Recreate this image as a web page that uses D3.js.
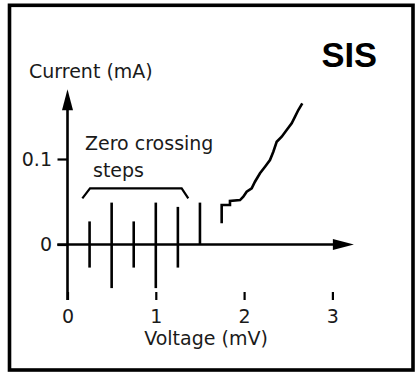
<!DOCTYPE html>
<html>
<head>
<meta charset="utf-8">
<script src="https://cdn.jsdelivr.net/npm/d3@7"></script>
<style>
  html, body { margin: 0; padding: 0; background: #fff; }
  svg { display: block; }
  text { font-family: "DejaVu Sans", sans-serif; font-size: 19px; fill: #1a1a1a; }
</style>
</head>
<body>
<svg id="chart" width="419" height="372"></svg>
<script>
// ---- data ----
const xTickValues = [0, 1, 2, 3];
const xTickLabels = ["0", "1", "2", "3"];
const yTickValues = [0, 0.1];
const yTickLabels = ["0", "0.1"];

// zero-crossing (Shapiro) steps: voltage (mV), lower / upper current (mA)
const stepVoltages = [0.25, 0.5, 0.75, 1.0, 1.25, 1.5];
const stepLow  = [-0.027, -0.051, -0.027, -0.051, -0.027, 0];
const stepHigh = [0.027, 0.049, 0.027, 0.049, 0.044, 0.049];

// quasiparticle branch
const curveV = [1.746, 1.746, 1.84, 1.84, 1.954, 1.991, 2.029, 2.086, 2.123, 2.18, 2.237, 2.293, 2.331, 2.369, 2.426, 2.482, 2.539, 2.577, 2.614, 2.659];
const curveI = [0.0248, 0.0462, 0.0462, 0.0509, 0.052, 0.0559, 0.0618, 0.0657, 0.0734, 0.0833, 0.091, 0.0988, 0.1085, 0.1202, 0.1261, 0.1339, 0.1418, 0.1495, 0.1573, 0.1651];

// bracket over the zero-crossing steps
const bracketV = [0.168, 0.255, 1.293, 1.368];
const bracketI = [0.054, 0.0657, 0.0657, 0.054];

const title = "SIS";
const xLabel = "Voltage (mV)";
const yLabel = "Current (mA)";
const annot = ["Zero crossing", "steps"];

// ---- drawing ----
const svg = d3.select("#chart");

// frame
svg.append("rect")
  .attr("x", 9.5).attr("y", 5.3).attr("width", 403.5).attr("height", 364.7)
  .attr("fill", "none").attr("stroke", "#000").attr("stroke-width", 3.6);

const x = d3.scaleLinear().domain([0, 3]).range([67.5, 332.4]);
const y = d3.scaleLinear().domain([0, 0.1]).range([244.5, 159]);

const lw = 2.6;

// bottom tick row (detached ticks)
const xAxis = d3.axisBottom(x).tickValues(xTickValues)
  .tickFormat((d, i) => xTickLabels[i]).tickSize(-8).tickPadding(9.5);
const gx = svg.append("g").attr("transform", "translate(0,300)").call(xAxis);
gx.select(".domain").remove();
gx.selectAll(".tick line").attr("stroke", "#000").attr("stroke-width", 2.2);
gx.selectAll(".tick text").attr("font-family", null).attr("font-size", null).attr("fill", null);

// y ticks
const yAxis = d3.axisLeft(y).tickValues(yTickValues)
  .tickFormat((d, i) => yTickLabels[i]).tickSize(10).tickPadding(5.5);
const gy = svg.append("g").attr("transform", `translate(${x(0)},0)`).call(yAxis);
gy.select(".domain").remove();
gy.selectAll(".tick line").attr("stroke", "#000").attr("stroke-width", 2.2);
gy.selectAll(".tick text").attr("font-family", null).attr("font-size", null).attr("fill", null);

// y axis line + arrow
const yTop = 89.3, arrowLen = 21, arrowHalf = 5.5;
svg.append("line")
  .attr("x1", x(0)).attr("x2", x(0)).attr("y1", 300).attr("y2", yTop + arrowLen - 2)
  .attr("stroke", "#000").attr("stroke-width", lw);
svg.append("path")
  .attr("d", `M${x(0)},${yTop} L${x(0) - arrowHalf},${yTop + arrowLen} L${x(0) + arrowHalf},${yTop + arrowLen} Z`)
  .attr("fill", "#000");

// x axis line + arrow
const xEnd = x.range()[1] + 0.5;
svg.append("line")
  .attr("x1", 57.3).attr("x2", xEnd + 2).attr("y1", y(0)).attr("y2", y(0))
  .attr("stroke", "#000").attr("stroke-width", lw);
svg.append("path")
  .attr("d", `M${xEnd + arrowLen},${y(0)} L${xEnd},${y(0) - arrowHalf} L${xEnd},${y(0) + arrowHalf} Z`)
  .attr("fill", "#000");

// zero-crossing steps
svg.append("g").selectAll("line").data(stepVoltages).join("line")
  .attr("x1", d => x(d)).attr("x2", d => x(d))
  .attr("y1", (d, i) => y(stepLow[i])).attr("y2", (d, i) => y(stepHigh[i]))
  .attr("stroke", "#000").attr("stroke-width", lw);

// quasiparticle curve
const pts = curveV.map((v, i) => [v, curveI[i]]);
svg.append("path")
  .attr("d", d3.line().x(d => x(d[0])).y(d => y(d[1]))(pts))
  .attr("fill", "none").attr("stroke", "#000").attr("stroke-width", lw)
  .attr("stroke-linejoin", "miter");

// bracket
const bpts = bracketV.map((v, i) => [v, bracketI[i]]);
svg.append("path")
  .attr("d", d3.line().x(d => x(d[0])).y(d => y(d[1]))(bpts))
  .attr("fill", "none").attr("stroke", "#000").attr("stroke-width", 2.2);

// texts
svg.append("text").attr("x", 29).attr("y", 78).text(yLabel);
svg.append("text").attr("x", 206).attr("y", 345).attr("text-anchor", "middle").text(xLabel);
svg.append("text").attr("x", 85).attr("y", 150).text(annot[0]);
svg.append("text").attr("x", 93).attr("y", 176.5).text(annot[1]);
svg.append("text").attr("x", 321.5).attr("y", 67.3)
  .style("font-family", "'Liberation Sans', Arial, sans-serif")
  .style("font-weight", "bold").style("font-size", "34.5px").style("fill", "#000")
  .text(title);
</script>
</body>
</html>
